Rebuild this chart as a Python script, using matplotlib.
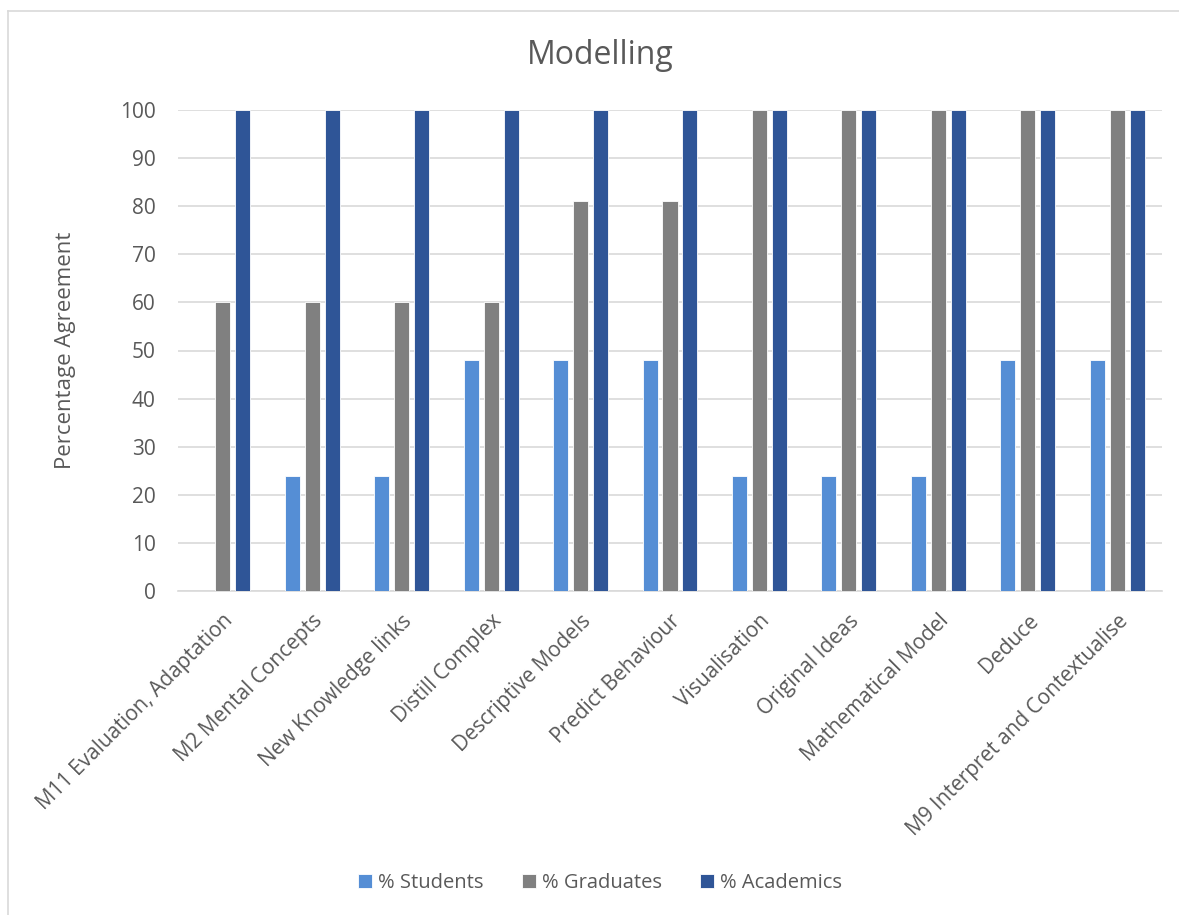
import matplotlib.pyplot as plt
from matplotlib.lines import Line2D
import numpy as np

categories = ['M11 Evaluation, Adaptation', 'M2 Mental Concepts', 'New Knowledge links',
              'Distill Complex', 'Descriptive Models', 'Predict Behaviour', 'Visualisation',
              'Original Ideas', 'Mathematical Model', 'Deduce', 'M9 Interpret and Contextualise']
students = [0, 24, 24, 48, 48, 48, 24, 24, 24, 48, 48]
graduates = [60, 60, 60, 60, 81, 81, 100, 100, 100, 100, 100]
academics = [100, 100, 100, 100, 100, 100, 100, 100, 100, 100, 100]

series_names = ['% Students', '% Graduates', '% Academics']
colors = ['#558ED5', '#808080', '#2F5597']
txt = '#595959'

plt.rcParams['font.family'] = ['Open Sans', 'DejaVu Sans']

fig = plt.figure(figsize=(11.79, 9.15), dpi=100)
ax = fig.add_axes([178/1179, 1 - 591/915, (1162-178)/1179, (591-110)/915])

x = np.arange(len(categories))
w = 0.168
step = 0.223
for i, (vals, name, c) in enumerate(zip([students, graduates, academics], series_names, colors)):
    ax.bar(x + (i - 1) * step, vals, width=w, color=c, label=name,
           edgecolor='white', linewidth=0.6, zorder=3)

ax.set_xlim(-0.5, len(categories) - 0.5)
ax.set_ylim(0, 100)
ax.set_yticks(range(0, 101, 10))
ax.grid(axis='y', color='#D9D9D9', linewidth=1.2, zorder=0)
for s in ['top', 'right', 'left']:
    ax.spines[s].set_visible(False)
ax.spines['bottom'].set_color('#D9D9D9')
ax.spines['bottom'].set_linewidth(1.2)
ax.tick_params(length=0, labelsize=15, colors=txt)
ax.tick_params(axis='y', pad=16)
ax.set_xticks(x)
ax.set_xticklabels(categories, rotation=45, ha='right', va='top', rotation_mode='anchor')
ax.tick_params(axis='x', pad=14)

ax.set_ylabel('Percentage Agreement', fontsize=16, color=txt, labelpad=32)
fig.text(600/1179, 1 - 55/915, 'Modelling', fontsize=23, color=txt, ha='center', va='center')

fig.legend(loc='center', bbox_to_anchor=(600/1179, 1 - 883/915), ncol=3, frameon=False,
           fontsize=14.5, handlelength=0.7, handleheight=0.7, handletextpad=0.3,
           columnspacing=1.9, labelcolor=txt)

# chart border
fig.add_artist(Line2D([8/1179, 8/1179], [0, 1 - 11/915], color='#D9D9D9', lw=1.2))
fig.add_artist(Line2D([8/1179, 1], [1 - 11/915, 1 - 11/915], color='#D9D9D9', lw=1.2))

fig.savefig('out.png', dpi=100)
